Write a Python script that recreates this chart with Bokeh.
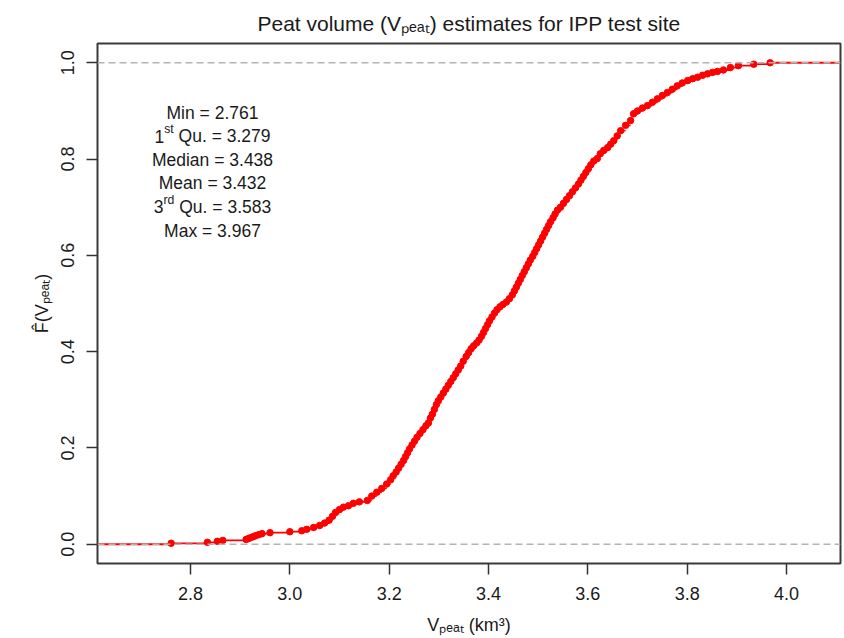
import math
from bokeh.plotting import figure
from bokeh.models import Label, Span, FixedTicker, PrintfTickFormatter, Title
from bokeh.embed import file_html
from bokeh.resources import INLINE

# ---------------- data ----------------
ecdf_x = [2.761, 2.834, 2.854, 2.865, 2.912, 2.917, 2.922, 2.927, 2.932, 2.938,
          2.944, 2.960, 3.000, 3.024, 3.034, 3.048, 3.060, 3.070, 3.079, 3.086,
          3.092, 3.100, 3.108, 3.118, 3.128, 3.140, 3.156, 3.165, 3.175, 3.185,
          3.195, 3.203, 3.208, 3.214, 3.219, 3.224, 3.229, 3.233, 3.237, 3.241,
          3.246, 3.251, 3.256, 3.262, 3.268, 3.274, 3.279, 3.283, 3.287, 3.291,
          3.295, 3.299, 3.304, 3.309, 3.314, 3.319, 3.324, 3.329, 3.334, 3.339,
          3.344, 3.349, 3.355, 3.360, 3.365, 3.370, 3.376, 3.381, 3.386, 3.390,
          3.394, 3.398, 3.402, 3.407, 3.412, 3.417, 3.423, 3.429, 3.436, 3.442,
          3.448, 3.452, 3.456, 3.460, 3.464, 3.468, 3.472, 3.476, 3.480, 3.484,
          3.489, 3.493, 3.497, 3.501, 3.505, 3.509, 3.513, 3.517, 3.521, 3.525,
          3.530, 3.534, 3.539, 3.545, 3.551, 3.557, 3.563, 3.569, 3.575, 3.581,
          3.586, 3.591, 3.596, 3.601, 3.606, 3.612, 3.619, 3.625, 3.632, 3.640,
          3.646, 3.652, 3.659, 3.666, 3.676, 3.686, 3.692, 3.700, 3.710, 3.720,
          3.730, 3.740, 3.750, 3.760, 3.770, 3.780, 3.790, 3.801, 3.811, 3.821,
          3.831, 3.841, 3.851, 3.861, 3.873, 3.887, 3.903, 3.934, 3.967]
ecdf_f = [0.002, 0.004, 0.006, 0.008, 0.010, 0.012, 0.014, 0.016, 0.018, 0.020,
          0.022, 0.024, 0.026, 0.028, 0.031, 0.035, 0.039, 0.044, 0.050, 0.058,
          0.066, 0.072, 0.077, 0.080, 0.085, 0.088, 0.091, 0.100, 0.108, 0.116,
          0.125, 0.134, 0.142, 0.150, 0.158, 0.166, 0.174, 0.182, 0.190, 0.198,
          0.206, 0.214, 0.222, 0.230, 0.238, 0.246, 0.252, 0.262, 0.270, 0.280,
          0.290, 0.298, 0.306, 0.314, 0.322, 0.330, 0.338, 0.346, 0.354, 0.362,
          0.370, 0.380, 0.390, 0.398, 0.406, 0.412, 0.418, 0.424, 0.432, 0.440,
          0.448, 0.456, 0.464, 0.472, 0.480, 0.487, 0.493, 0.498, 0.503, 0.510,
          0.518, 0.526, 0.534, 0.542, 0.550, 0.558, 0.566, 0.574, 0.582, 0.590,
          0.598, 0.606, 0.614, 0.622, 0.630, 0.638, 0.646, 0.654, 0.662, 0.670,
          0.678, 0.686, 0.694, 0.700, 0.708, 0.716, 0.724, 0.732, 0.740, 0.748,
          0.756, 0.764, 0.772, 0.780, 0.788, 0.796, 0.801, 0.811, 0.818, 0.824,
          0.831, 0.838, 0.848, 0.859, 0.870, 0.880, 0.894, 0.900, 0.906, 0.911,
          0.918, 0.925, 0.932, 0.938, 0.945, 0.952, 0.958, 0.963, 0.967, 0.970,
          0.974, 0.977, 0.980, 0.982, 0.985, 0.990, 0.994, 0.997, 1.000]

x_ticks = [2.8, 3.0, 3.2, 3.4, 3.6, 3.8, 4.0]
y_ticks = [0.0, 0.2, 0.4, 0.6, 0.8, 1.0]
ref_lines = [0.0, 1.0]

stat_prefix = ["Min", "1", "Median", "Mean", "3", "Max"]
stat_sup = ["", "st", "", "", "rd", ""]
stat_suffix = ["", " Qu.", "", "", " Qu.", ""]
stat_values = [2.761, 3.279, 3.438, 3.432, 3.583, 3.967]

SUB_PEAT = "\u209a\u2091\u2090\u209c"  # subscript "peat"
title_text = "Peat volume (V" + SUB_PEAT + ") estimates for IPP test site"
xlabel_text = "V" + SUB_PEAT + " (km\u00b3)"
ylabel_text = "F\u0302(V" + SUB_PEAT + ")"

# ---------------- layout ----------------
FIG_W, FIG_H = 844, 638
BL, BR, BT, BB = 97, 4, 43, 75
PPX = 496.7
frame_w = FIG_W - BL - BR
frame_h = FIG_H - BT - BB
x_start = 2.8 - (190 - BL) / PPX
x_end = x_start + frame_w / PPX
y_start, y_end = -0.04, 1.04
PPY = frame_h / (y_end - y_start)

def X(px):
    return x_start + (px - BL) / PPX

def Y(py):
    return y_start + ((BT + frame_h) - py) / PPY

WID = {' ': 278, '(': 333, ')': 333, '.': 278, '=': 584, 'I': 278, 'M': 833,
       'P': 667, 'Q': 778, 'V': 667, 'F': 611, 'a': 556, 'c': 500, 'd': 556,
       'e': 556, 'f': 278, 'i': 222, 'k': 500, 'l': 222, 'm': 833, 'n': 556,
       'o': 556, 'p': 556, 'r': 333, 's': 500, 't': 278, 'u': 556, 'v': 500,
       'x': 500}

def tw(s, size):
    return sum(WID.get(c, 556) for c in s) * size / 1000.0

FONT = "Liberation Sans"
TXT = "#1a1a1a"

p = figure(width=FIG_W, height=FIG_H, output_backend="svg", toolbar_location=None,
           x_range=(x_start, x_end), y_range=(y_start, y_end),
           min_border_left=BL, min_border_right=BR, min_border_top=BT,
           min_border_bottom=BB, background_fill_color="white",
           border_fill_color="white")
p.title = Title(text=title_text, align="center", text_font=FONT,
                text_font_size="21px", text_font_style="normal",
                text_color=TXT, standoff=17)
p.xgrid.visible = False
p.ygrid.visible = False
p.outline_line_color = "#3a3a3a"
p.outline_line_width = 2

for ax in p.axis:
    ax.axis_line_color = None
    ax.major_tick_out = 11
    ax.major_tick_in = 0
    ax.minor_tick_line_color = None
    ax.major_tick_line_color = "#333333"
    ax.major_tick_line_width = 1.5
    ax.major_label_text_font = FONT
    ax.major_label_text_font_size = "18px"
    ax.major_label_text_color = TXT
    ax.major_label_standoff = 12
    ax.axis_label_text_font = FONT
    ax.axis_label_text_font_size = "18px"
    ax.axis_label_text_font_style = "normal"
    ax.axis_label_text_color = TXT
    ax.formatter = PrintfTickFormatter(format="%.1f")
p.xaxis.ticker = FixedTicker(ticks=x_ticks)
p.yaxis.ticker = FixedTicker(ticks=y_ticks)
p.yaxis.major_label_orientation = "vertical"
p.xaxis.axis_label = xlabel_text
p.yaxis.axis_label = ylabel_text
p.xaxis.axis_label_standoff = 12
p.yaxis.axis_label_standoff = 7

# ECDF horizontal steps (no verticals), with the outer extensions
x0 = [x_start] + ecdf_x
x1 = ecdf_x + [x_end]
yy = [0.0] + ecdf_f
p.segment(x0=x0, y0=yy, x1=x1, y1=yy, line_color="red", line_width=1.8)
p.scatter(ecdf_x, ecdf_f, size=6.5, color="red", line_color="red")

for v in ref_lines:
    p.add_layout(Span(location=v, dimension="width", line_color="#b3b3b3",
                      line_dash="7 4", line_width=1.5))

def put(text, px, py, size):
    p.add_layout(Label(x=X(px), y=Y(py), text=text, text_font=FONT,
                       text_font_size=f"{size}px", text_align="left",
                       text_baseline="alphabetic", text_color=TXT))

def row(parts, cx, base):
    # parts: list of (text, size, baseline_shift); leading spaces become offsets
    total = sum(tw(t, s) for t, s, _ in parts)
    xpos = cx - total / 2.0
    for t, s, sh in parts:
        stripped = t.lstrip(" ")
        xpos += tw(t[:len(t) - len(stripped)], s)
        if stripped:
            put(stripped, xpos, base + sh, s)
        xpos += tw(stripped, s)

# summary statistics block
for i in range(len(stat_prefix)):
    base = 112.0 + 23.6 * i
    tail = stat_suffix[i] + " = " + f"{stat_values[i]:.3f}"
    if stat_sup[i]:
        parts = [(stat_prefix[i], 17.5, 0), (stat_sup[i], 12.2, -7), (tail, 17.5, 0)]
    else:
        parts = [(stat_prefix[i] + tail, 17.5, 0)]
    row(parts, 212, base)

open("out.html", "w").write(file_html(p, INLINE))
